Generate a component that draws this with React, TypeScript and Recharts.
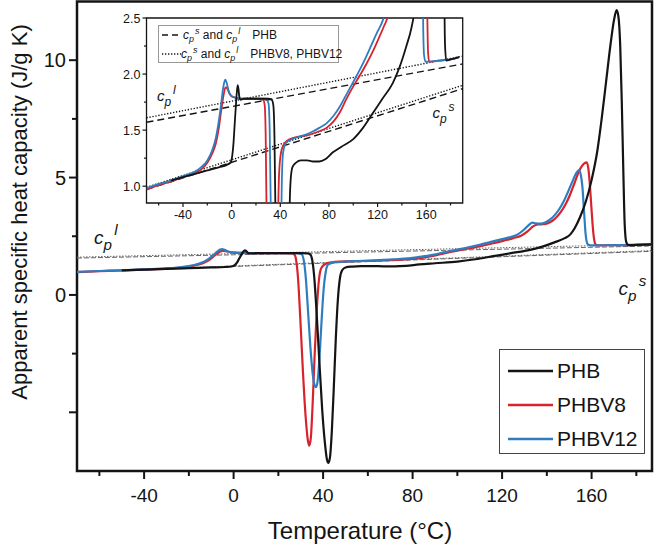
import React from 'react';
import { LineChart, Line, XAxis, YAxis, ReferenceArea, ReferenceDot } from 'recharts';

const FONT = '"Liberation Sans", Arial, Helvetica, sans-serif';
const INK = '#141414';
const RED = '#d7242c';
const BLUE = '#2f7dc1';

// apparent cp (J/g K) against temperature (°C)
const phb = [
  [-50, 1.05], [-40, 1.08], [-30, 1.11], [-20, 1.14], [-10, 1.17], [-4, 1.19], [-1, 1.21],
  [0.5, 1.27], [1.5, 1.38], [2.5, 1.55], [3.5, 1.72], [4.3, 1.84], [5, 1.9], [5.6, 1.87],
  [6.3, 1.8], [7.5, 1.77], [10, 1.78], [20, 1.78], [30, 1.78], [33, 1.77], [34.3, 1.72],
  [35.2, 1.45], [36, 0.8], [37, -0.6], [38.3, -2.8], [39.6, -4.9], [40.8, -6.3], [41.7, -7.0],
  [42.4, -7.16], [43.1, -6.9], [43.9, -5.8], [44.8, -3.9], [45.7, -1.8], [46.6, -0.2],
  [47.5, 0.7], [48.5, 1.05], [50, 1.17], [53, 1.21], [57, 1.23], [62, 1.23], [67, 1.22],
  [72, 1.22], [77, 1.24], [83, 1.3], [90, 1.35], [100, 1.42], [108, 1.52], [116, 1.65],
  [124, 1.78], [132.5, 1.92], [138, 2.06], [143.4, 2.24], [148, 2.42], [150.5, 2.58],
  [152.5, 2.85], [155, 3.35], [157.5, 4.0], [160, 4.9], [162.5, 6.1], [164.5, 7.5],
  [166.5, 9.1], [168.5, 10.7], [170, 11.7], [171.2, 12.13], [172, 11.85], [172.8, 10.6],
  [173.5, 8.2], [174.2, 5.2], [174.8, 3.0], [175.5, 2.25], [176.5, 2.12], [180, 2.13], [187, 2.15],
];

const phbv8 = [
  [-70, 0.97], [-60, 1.01], [-50, 1.04], [-40, 1.08], [-30, 1.12], [-25, 1.15], [-20, 1.21],
  [-16, 1.29], [-13, 1.38], [-10.5, 1.52], [-8.5, 1.68], [-6.5, 1.82], [-5, 1.88], [-3.5, 1.87],
  [-2, 1.83], [0, 1.8], [3, 1.79], [8, 1.78], [15, 1.78], [22, 1.78], [26, 1.77], [27.2, 1.72],
  [28, 1.45], [28.8, 0.7], [29.8, -1.0], [31, -3.3], [32.2, -5.2], [33.2, -6.2], [33.8, -6.42],
  [34.5, -6.1], [35.3, -4.7], [36.2, -2.6], [37.2, -0.6], [38.2, 0.7], [39.2, 1.15], [41, 1.32],
  [44, 1.39], [48, 1.42], [54, 1.44], [61, 1.45], [67, 1.47], [72, 1.49], [78, 1.52], [84, 1.58],
  [89, 1.66], [94, 1.77], [100, 1.89], [105, 1.98], [110.8, 2.09], [116, 2.2], [121, 2.32],
  [125, 2.42], [128.5, 2.52], [131.5, 2.72], [134, 2.93], [136, 3.0], [138.5, 3.01],
  [140.5, 3.06], [142.5, 3.16], [144.5, 3.33], [146.5, 3.57], [148.5, 3.88], [150.5, 4.3],
  [152.5, 4.8], [154.5, 5.3], [156.3, 5.57], [157.8, 5.65], [158.6, 5.35], [159.3, 4.6],
  [160, 3.6], [160.8, 2.62], [161.6, 2.18], [162.5, 2.11], [170, 2.12], [180, 2.13], [187, 2.15],
];

const phbv12 = [
  [-70, 0.98], [-60, 1.02], [-50, 1.05], [-40, 1.09], [-30, 1.13], [-25, 1.17], [-20, 1.23],
  [-16, 1.32], [-13, 1.43], [-11, 1.55], [-9, 1.7], [-7.3, 1.85], [-6, 1.93], [-5.2, 1.95],
  [-4, 1.92], [-2.5, 1.85], [-0.5, 1.81], [3, 1.79], [8, 1.78], [15, 1.78], [22, 1.78],
  [28, 1.78], [30.3, 1.74], [31.3, 1.5], [32.2, 0.8], [33.2, -0.6], [34.3, -2.2], [35.4, -3.4],
  [36.2, -3.85], [36.8, -3.93], [37.5, -3.7], [38.3, -2.8], [39.2, -1.3], [40.2, 0.2],
  [41.2, 1.0], [42.3, 1.3], [45, 1.39], [50, 1.42], [55, 1.44], [61, 1.46], [67, 1.49],
  [72, 1.52], [78, 1.56], [84, 1.63], [89, 1.71], [94, 1.81], [100, 1.93], [105, 2.03],
  [110, 2.14], [115, 2.26], [120, 2.38], [124, 2.47], [127, 2.58], [130, 2.8], [132, 2.98],
  [133.5, 3.08], [135, 3.05], [137, 3.04], [139.5, 3.1], [141.5, 3.22], [143.5, 3.4],
  [145.5, 3.65], [147.5, 3.98], [149.5, 4.4], [151.5, 4.85], [153.2, 5.2], [154.4, 5.32],
  [155.2, 5.1], [155.9, 4.6], [156.6, 3.6], [157.3, 2.62], [158.2, 2.17], [159.5, 2.11],
  [170, 2.12], [180, 2.13], [187, 2.15],
];

// solid (cp^s) and liquid (cp^l) baselines
const cplPhb = [[-70, 1.57], [190, 2.09]];
const cplPhbv = [[-70, 1.61], [190, 2.16]];
const cpsPhb = [[-70, 0.97], [190, 1.87]];
const cpsPhbv = [[-70, 0.99], [190, 1.9]];

const mainXTicks = [-60, -40, -20, 0, 20, 40, 60, 80, 100, 120, 140, 160, 180];
const mainYTicks = [-5, -2.5, 0, 2.5, 5, 7.5, 10];
const insetXTicks = [-60, -40, -20, 0, 20, 40, 60, 80, 100, 120, 140, 160, 180];
const insetYTicks = [1.0, 1.25, 1.5, 1.75, 2.0, 2.25, 2.5];

const seriesNames = ['PHB', 'PHBV8', 'PHBV12'];
const seriesColors: Record<string, string> = { PHB: INK, PHBV8: RED, PHBV12: BLUE };

const MAIN_X = [-70, 187];
const MAIN_Y = [-7.5, 12.5];
const INSET_X = [-70, 190];
const INSET_Y = [0.85, 2.5];

const toPts = (rows: number[][]) => rows.map(([T, v]) => ({ T, v }));

function curves(width: number) {
  return [
    <Line key="r" data={toPts(phbv8)} dataKey="v" type="monotone" stroke={RED} strokeWidth={width} dot={false} isAnimationActive={false} />,
    <Line key="b" data={toPts(phbv12)} dataKey="v" type="monotone" stroke={BLUE} strokeWidth={width} dot={false} isAnimationActive={false} />,
    <Line key="k" data={toPts(phb)} dataKey="v" type="monotone" stroke={INK} strokeWidth={width} dot={false} isAnimationActive={false} />,
  ];
}

function baselines(color: string, width: number, dash: string, dot: string) {
  return [
    [cplPhb, dash], [cpsPhb, dash], [cplPhbv, dot], [cpsPhbv, dot],
  ].map(([rows, d], i) => (
    <Line key={'cp' + i} data={toPts(rows as number[][])} dataKey="v" type="linear" stroke={color}
      strokeWidth={width} strokeDasharray={d as string} dot={false} isAnimationActive={false} />
  ));
}

const MainXTick = ({ x, y, payload }: any) => {
  const major = payload.value % 40 === 0;
  return (
    <g>
      <line x1={x} x2={x} y1={y} y2={y + (major ? 8 : 5)} stroke={INK} strokeWidth={2} />
      {major && (
        <text x={x} y={y + 31} textAnchor="middle" fontSize={19} fill={INK} fontFamily={FONT}>{payload.value}</text>
      )}
    </g>
  );
};

const MainYTick = ({ x, y, payload }: any) => {
  const major = payload.value % 5 === 0;
  return (
    <g>
      <line x1={x - (major ? 8 : 5)} x2={x} y1={y} y2={y} stroke={INK} strokeWidth={2} />
      {major && payload.value >= 0 && (
        <text x={x - 11} y={y + 7} textAnchor="end" fontSize={20} fill={INK} fontFamily={FONT}>{payload.value}</text>
      )}
    </g>
  );
};

const InsetXTick = ({ x, y, payload }: any) => {
  const major = payload.value % 40 === 0;
  return (
    <g>
      <line x1={x} x2={x} y1={y} y2={y + (major ? 4 : 2.5)} stroke={INK} strokeWidth={1.2} />
      {major && (
        <text x={x} y={y + 16} textAnchor="middle" fontSize={12.5} fill={INK} fontFamily={FONT}>{payload.value}</text>
      )}
    </g>
  );
};

const InsetYTick = ({ x, y, payload }: any) => {
  const v = payload.value as number;
  const major = Math.abs(v * 2 - Math.round(v * 2)) < 1e-6;
  return (
    <g>
      <line x1={x - (major ? 4 : 2.5)} x2={x} y1={y} y2={y} stroke={INK} strokeWidth={1.2} />
      {major && (
        <text x={x - 6} y={y + 4.5} textAnchor="end" fontSize={12.5} fill={INK} fontFamily={FONT}>{v.toFixed(1)}</text>
      )}
    </g>
  );
};

const cpLabel = (sup: string, size: number) => (p: any) => (
  <text x={p.cx} y={p.cy} fontSize={size} fontStyle="italic" fill={INK} fontFamily={FONT}>
    c
    <tspan dy={size * 0.32} fontSize={size * 0.8}>p</tspan>
    <tspan dy={-size * 0.78} dx={size * 0.12} fontSize={size * 0.8}>{sup}</tspan>
  </text>
);

const Cp = ({ sup }: { sup: string }) => (
  <span style={{ fontStyle: 'italic' }}>
    c<span style={{ fontSize: 9, position: 'relative', top: 3 }}>p</span>
    <span style={{ fontSize: 9, position: 'relative', top: -5, marginLeft: 1 }}>{sup}</span>
  </span>
);

export default function App() {
  return (
    <div style={{ position: 'absolute', left: 0, top: 0, width: 661, height: 553, background: '#fff', fontFamily: FONT }}>
      <LineChart width={661} height={553} margin={{ top: 1.5, right: 9, bottom: 0, left: 0 }}>
        <XAxis type="number" dataKey="T" domain={MAIN_X} allowDataOverflow ticks={mainXTicks} interval={0}
          tick={MainXTick} tickSize={0} tickMargin={0} tickLine={false} axisLine={false} height={82}
          label={() => (
            <text x={360} y={539} textAnchor="middle" fontSize={24} fill={INK} fontFamily={FONT}>Temperature (°C)</text>
          )} />
        <YAxis type="number" domain={MAIN_Y} allowDataOverflow ticks={mainYTicks} interval={0}
          tick={MainYTick} tickSize={0} tickMargin={0} tickLine={false} axisLine={false} width={77}
          label={() => (
            <text transform="translate(19, 212) rotate(-90)" dy="0.35em" textAnchor="middle" fontSize={22} fill={INK} fontFamily={FONT}>
              Apparent specific heat capacity (J/g K)
            </text>
          )} />
        {baselines('#666', 1, '5 2', '1.5 1.5')}
        {curves(2.2)}
        <ReferenceDot x={-62.4} y={2.17} r={0} shape={cpLabel('l', 19)} />
        <ReferenceDot x={172} y={0} r={0} shape={cpLabel('s', 19)} />
        <ReferenceArea x1={MAIN_X[0]} x2={MAIN_X[1]} y1={MAIN_Y[0]} y2={MAIN_Y[1]} fill="none" stroke={INK} strokeWidth={2.5} />
      </LineChart>

      <div style={{ position: 'absolute', left: 100, top: 10 }}>
        <LineChart width={370} height={222} margin={{ top: 8, right: 7.3, bottom: 0, left: 0 }}>
          <XAxis type="number" dataKey="T" domain={INSET_X} allowDataOverflow ticks={insetXTicks} interval={0}
            tick={InsetXTick} tickSize={0} tickMargin={0} tickLine={false} axisLine={false} height={29} />
          <YAxis type="number" domain={INSET_Y} allowDataOverflow ticks={insetYTicks} interval={0}
            tick={InsetYTick} tickSize={0} tickMargin={0} tickLine={false} axisLine={false} width={46.5} />
          {baselines(INK, 1.4, '7 4', '1.3 1.7')}
          {curves(1.8)}
          <ReferenceDot x={-61.3} y={1.757} r={0} shape={cpLabel('l', 15)} />
          <ReferenceDot x={165.2} y={1.61} r={0} shape={cpLabel('s', 15)} />
          <ReferenceArea x1={INSET_X[0]} x2={INSET_X[1]} y1={INSET_Y[0]} y2={INSET_Y[1]} fill="none" stroke={INK} strokeWidth={1.3} />
        </LineChart>
      </div>

      {/* inset legend */}
      <div style={{ position: 'absolute', left: 158, top: 25, width: 181, height: 38, border: '1px solid #999', background: '#fff', boxSizing: 'border-box', fontSize: 12, color: INK }}>
        <div style={{ position: 'absolute', left: 2, top: 1, height: 16, display: 'flex', alignItems: 'center', whiteSpace: 'nowrap' }}>
          <svg width={20} height={16}><line x1={1} x2={18} y1={8} y2={8} stroke={INK} strokeWidth={1.4} strokeDasharray="6 4" /></svg>
          <span style={{ marginLeft: 2 }}><Cp sup="s" /> and <Cp sup="l" /></span>
          <span style={{ marginLeft: 12 }}>PHB</span>
        </div>
        <div style={{ position: 'absolute', left: 2, top: 20, height: 16, display: 'flex', alignItems: 'center', whiteSpace: 'nowrap' }}>
          <svg width={20} height={16}><line x1={1} x2={20} y1={8} y2={8} stroke={INK} strokeWidth={1.3} strokeDasharray="1.3 1.7" /></svg>
          <span><Cp sup="s" /> and <Cp sup="l" /></span>
          <span style={{ marginLeft: 12 }}>PHBV8, PHBV12</span>
        </div>
      </div>

      {/* main legend */}
      <div style={{ position: 'absolute', left: 499, top: 349, width: 146, height: 105, border: '1px solid #444', background: '#fff', boxSizing: 'border-box', fontSize: 21, color: INK }}>
        {seriesNames.map((name, i) => (
          <div key={name} style={{ position: 'absolute', left: 0, top: 6 + i * 34, height: 30, display: 'flex', alignItems: 'center' }}>
            <svg width={57} height={30}><line x1={8} x2={53} y1={15} y2={15} stroke={seriesColors[name]} strokeWidth={2.5} /></svg>
            <span>{name}</span>
          </div>
        ))}
      </div>
    </div>
  );
}
